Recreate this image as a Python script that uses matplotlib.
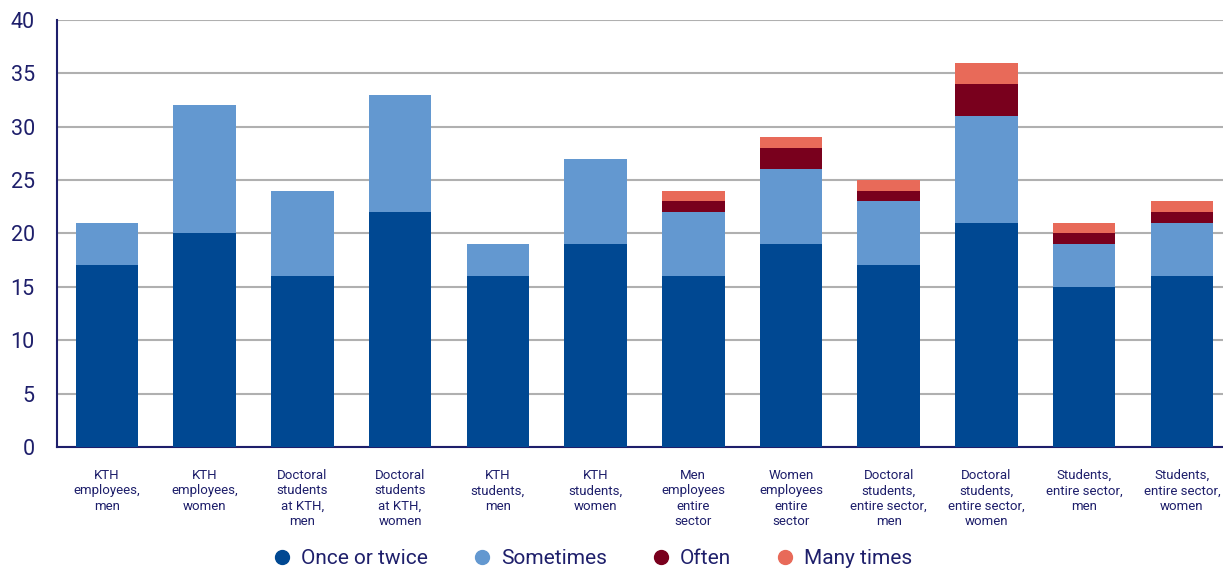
import matplotlib.pyplot as plt
import numpy as np

categories = [
    "KTH\nemployees,\nmen",
    "KTH\nemployees,\nwomen",
    "Doctoral\nstudents\nat KTH,\nmen",
    "Doctoral\nstudents\nat KTH,\nwomen",
    "KTH\nstudents,\nmen",
    "KTH\nstudents,\nwomen",
    "Men\nemployees\nentire\nsector",
    "Women\nemployees\nentire\nsector",
    "Doctoral\nstudents,\nentire sector,\nmen",
    "Doctoral\nstudents,\nentire sector,\nwomen",
    "Students,\nentire sector,\nmen",
    "Students,\nentire sector,\nwomen",
]
once_or_twice = [17, 20, 16, 22, 16, 19, 16, 19, 17, 21, 15, 16]
sometimes = [4, 12, 8, 11, 3, 8, 6, 7, 6, 10, 4, 5]
often = [0, 0, 0, 0, 0, 0, 1, 2, 1, 3, 1, 1]
many_times = [0, 0, 0, 0, 0, 0, 1, 1, 1, 2, 1, 1]

series = [
    ("Once or twice", once_or_twice, "#004892"),
    ("Sometimes", sometimes, "#6398d0"),
    ("Often", often, "#79001d"),
    ("Many times", many_times, "#e86a59"),
]
text_color = "#1e1f6b"

plt.rcParams['font.family'] = ['Roboto', 'DejaVu Sans']

fig = plt.figure(figsize=(12.23, 5.68), dpi=100)
ax = fig.add_axes([0.0466, 0.213, 0.9534, 0.752])

x = np.arange(len(categories))
bottom = np.zeros(len(categories))
for name, vals, col in series:
    ax.bar(x, vals, 0.64, bottom=bottom, color=col, label=name, zorder=3)
    bottom += np.array(vals)

ax.set_ylim(0, 40)
ax.set_xlim(-0.51, 11.42)
ax.set_yticks(range(0, 41, 5))
ax.yaxis.grid(True, color="#b0b0b0", linewidth=1.5, zorder=0)
ax.set_axisbelow(True)
for s in ["top", "right"]:
    ax.spines[s].set_visible(False)
ax.spines["left"].set_color(text_color)
ax.spines["bottom"].set_color(text_color)
ax.spines["left"].set_linewidth(1.5)
ax.spines["bottom"].set_linewidth(1.5)
ax.tick_params(axis="y", length=0, labelsize=15.5, labelcolor=text_color, pad=16)
ax.tick_params(axis="x", length=0, labelsize=9.5, labelcolor=text_color, pad=16)
ax.set_xticks(x)
ax.set_xticklabels(categories, va="top", linespacing=1.22)

handles = [plt.Line2D([], [], marker="o", linestyle="", markersize=10,
                      markerfacecolor=c, markeredgecolor=c) for _, _, c in series]
fig.legend(handles, [n for n, _, _ in series], loc="center", bbox_to_anchor=(0.484, 0.017),
           ncol=4, frameon=False, fontsize=15, labelcolor=text_color,
           handlelength=1.0, handletextpad=0.4, columnspacing=2.1)

fig.savefig("out.png", dpi=100)
